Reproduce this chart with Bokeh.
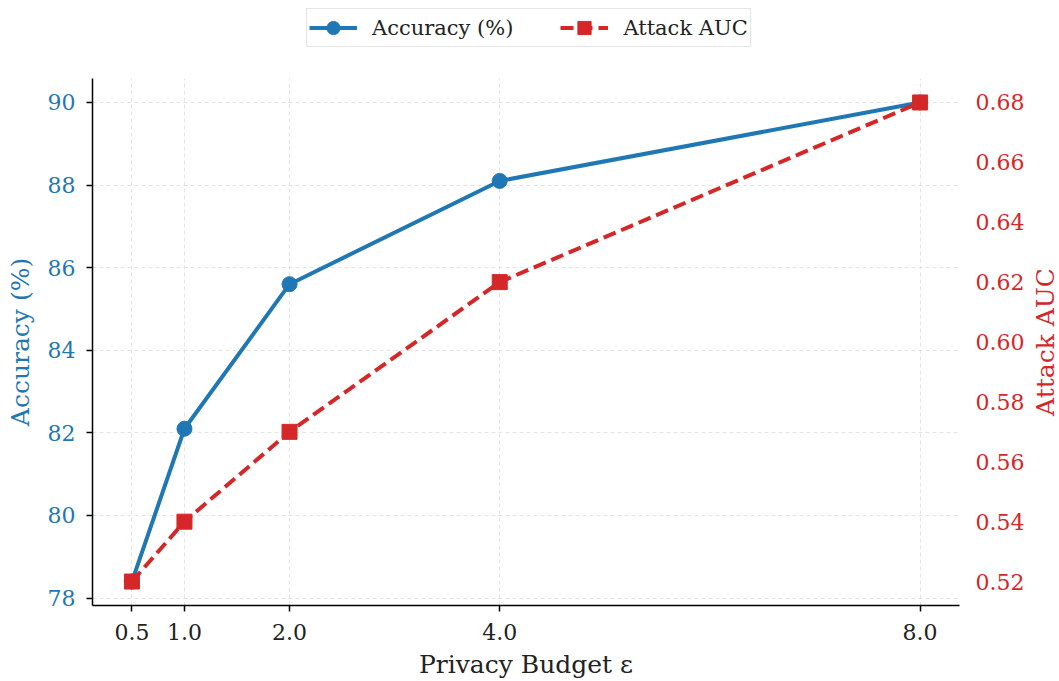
import math
from bokeh.plotting import figure
from bokeh.layouts import column, row
from bokeh.models import (LinearAxis, Range1d, Legend, LegendItem, FixedTicker,
                          SingleIntervalTicker, NumeralTickFormatter, Label)
from bokeh.embed import file_html
from bokeh.resources import INLINE

epsilons = [0.5, 1.0, 2.0, 4.0, 8.0]
x_labels = ["0.5", "1.0", "2.0", "4.0", "8.0"]
accuracy = [78.4, 82.1, 85.6, 88.1, 90.0]
attack_auc = [0.52, 0.54, 0.57, 0.62, 0.68]
series_names = ["Accuracy (%)", "Attack AUC"]

BLUE = "#1f77b4"
RED = "#d62728"
FONT = "DejaVu Serif"
TICK_FS = "22px"
LABEL_FS = "25px"
LEGEND_FS = "21px"
W = 1059
RW = 32          # strip that holds the right-hand axis title
PH = 619         # main plot height
B_TOP, B_BOT = 16, 75

p = figure(width=W - RW, height=PH, output_backend="svg", toolbar_location=None,
           x_range=Range1d(0.125, 8.375), y_range=Range1d(77.82, 90.58),
           min_border_left=92, min_border_right=67, min_border_top=B_TOP,
           min_border_bottom=B_BOT)
p.outline_line_color = None
p.extra_y_ranges = {"auc": Range1d(0.512, 0.688)}

# left axis
ya = p.yaxis[0]
ya.ticker = SingleIntervalTicker(interval=2)
ya.axis_label = series_names[0]
ya.axis_label_text_color = BLUE
ya.axis_label_text_font = FONT
ya.axis_label_text_font_style = "normal"
ya.axis_label_text_font_size = LABEL_FS
ya.axis_label_standoff = 10
ya.major_label_text_color = BLUE
ya.major_label_text_font = FONT
ya.major_label_text_font_size = TICK_FS
ya.major_label_standoff = 11
ya.axis_line_color = "black"
ya.axis_line_width = 1.5
ya.major_tick_line_color = "black"
ya.major_tick_line_width = 1.5
ya.major_tick_in = 0
ya.major_tick_out = 6
ya.minor_tick_line_color = None

# bottom axis
xa = p.xaxis[0]
xa.ticker = FixedTicker(ticks=epsilons)
xa.major_label_overrides = dict(zip(epsilons, x_labels))
xa.axis_label = "Privacy Budget ε"
xa.axis_label_text_font = FONT
xa.axis_label_text_font_style = "normal"
xa.axis_label_text_font_size = LABEL_FS
xa.axis_label_text_color = "#222222"
xa.axis_label_standoff = 7
xa.major_label_text_font = FONT
xa.major_label_text_font_size = TICK_FS
xa.major_label_text_color = "#222222"
xa.major_label_standoff = 12
xa.axis_line_color = "black"
xa.axis_line_width = 1.5
xa.major_tick_line_color = "black"
xa.major_tick_line_width = 1.5
xa.major_tick_in = 0
xa.major_tick_out = 6
xa.minor_tick_line_color = None

# right axis (ticks only; its title sits in the strip beside the plot)
ra = LinearAxis(y_range_name="auc", ticker=SingleIntervalTicker(interval=0.02),
                formatter=NumeralTickFormatter(format="0.00"))
ra.major_label_text_color = RED
ra.major_label_text_font = FONT
ra.major_label_text_font_size = TICK_FS
ra.axis_line_color = None
ra.major_tick_line_color = None
ra.minor_tick_line_color = None
ra.major_tick_in = 0
ra.major_tick_out = 0
ra.major_label_standoff = 12
p.add_layout(ra, "right")

for g in (p.xgrid[0], p.ygrid[0]):
    g.grid_line_color = "#d8d8d8"
    g.grid_line_dash = "4 3"
    g.grid_line_width = 1
    g.grid_line_alpha = 0.7

l1 = p.line(epsilons, accuracy, line_color=BLUE, line_width=4)
s1 = p.scatter(epsilons, accuracy, marker="circle", size=15, fill_color=BLUE,
               line_color=BLUE)
l2 = p.line(epsilons, attack_auc, y_range_name="auc", line_color=RED,
            line_width=4, line_dash="13 6")
s2 = p.scatter(epsilons, attack_auc, y_range_name="auc", marker="square",
               size=15, fill_color=RED, line_color=RED)

# right-hand title strip
rf = figure(width=RW, height=PH, output_backend="svg", toolbar_location=None,
            x_range=Range1d(0, 1), y_range=Range1d(0, 1),
            min_border_left=0, min_border_right=0, min_border_top=B_TOP,
            min_border_bottom=B_BOT, x_axis_type=None, y_axis_type=None)
rf.outline_line_color = None
rf.grid.visible = False
rf.add_layout(Label(x=0.56, y=0.5, text=series_names[1], angle=math.pi / 2,
                    text_align="center", text_baseline="middle",
                    text_color=RED, text_font=FONT, text_font_size=LABEL_FS))

# legend strip above the plot (its ranges keep the series out of view;
# the renderers only supply the legend glyphs)
lf = figure(width=W, height=62, output_backend="svg", toolbar_location=None,
            x_range=Range1d(100, 101), y_range=Range1d(100, 101),
            min_border_left=92, min_border_right=99, min_border_top=0,
            min_border_bottom=0, x_axis_type=None, y_axis_type=None)
lf.outline_line_color = None
lf.grid.visible = False
ll1 = lf.line(epsilons, accuracy, line_color=BLUE, line_width=4)
ls1 = lf.scatter(epsilons, accuracy, marker="circle", size=15, fill_color=BLUE,
                 line_color=BLUE)
ll2 = lf.line(epsilons, attack_auc, line_color=RED, line_width=4, line_dash="13 6")
ls2 = lf.scatter(epsilons, attack_auc, marker="square", size=15, fill_color=RED,
                 line_color=RED)

legend = Legend(items=[LegendItem(label=series_names[0], renderers=[ll1, ls1]),
                       LegendItem(label=series_names[1], renderers=[ll2, ls2])],
                orientation="horizontal", location=(214, 15))
legend.label_text_font = FONT
legend.label_text_font_size = LEGEND_FS
legend.label_text_color = "#222222"
legend.border_line_color = "#cccccc"
legend.border_line_width = 1.5
legend.glyph_width = 48
legend.glyph_height = 33
legend.label_standoff = 15
legend.spacing = 47
legend.padding = 2
legend.margin = 0
lf.add_layout(legend, "center")

layout = column(lf, row(p, rf, spacing=0), spacing=0)
open("out.html", "w").write(file_html(layout, INLINE))
